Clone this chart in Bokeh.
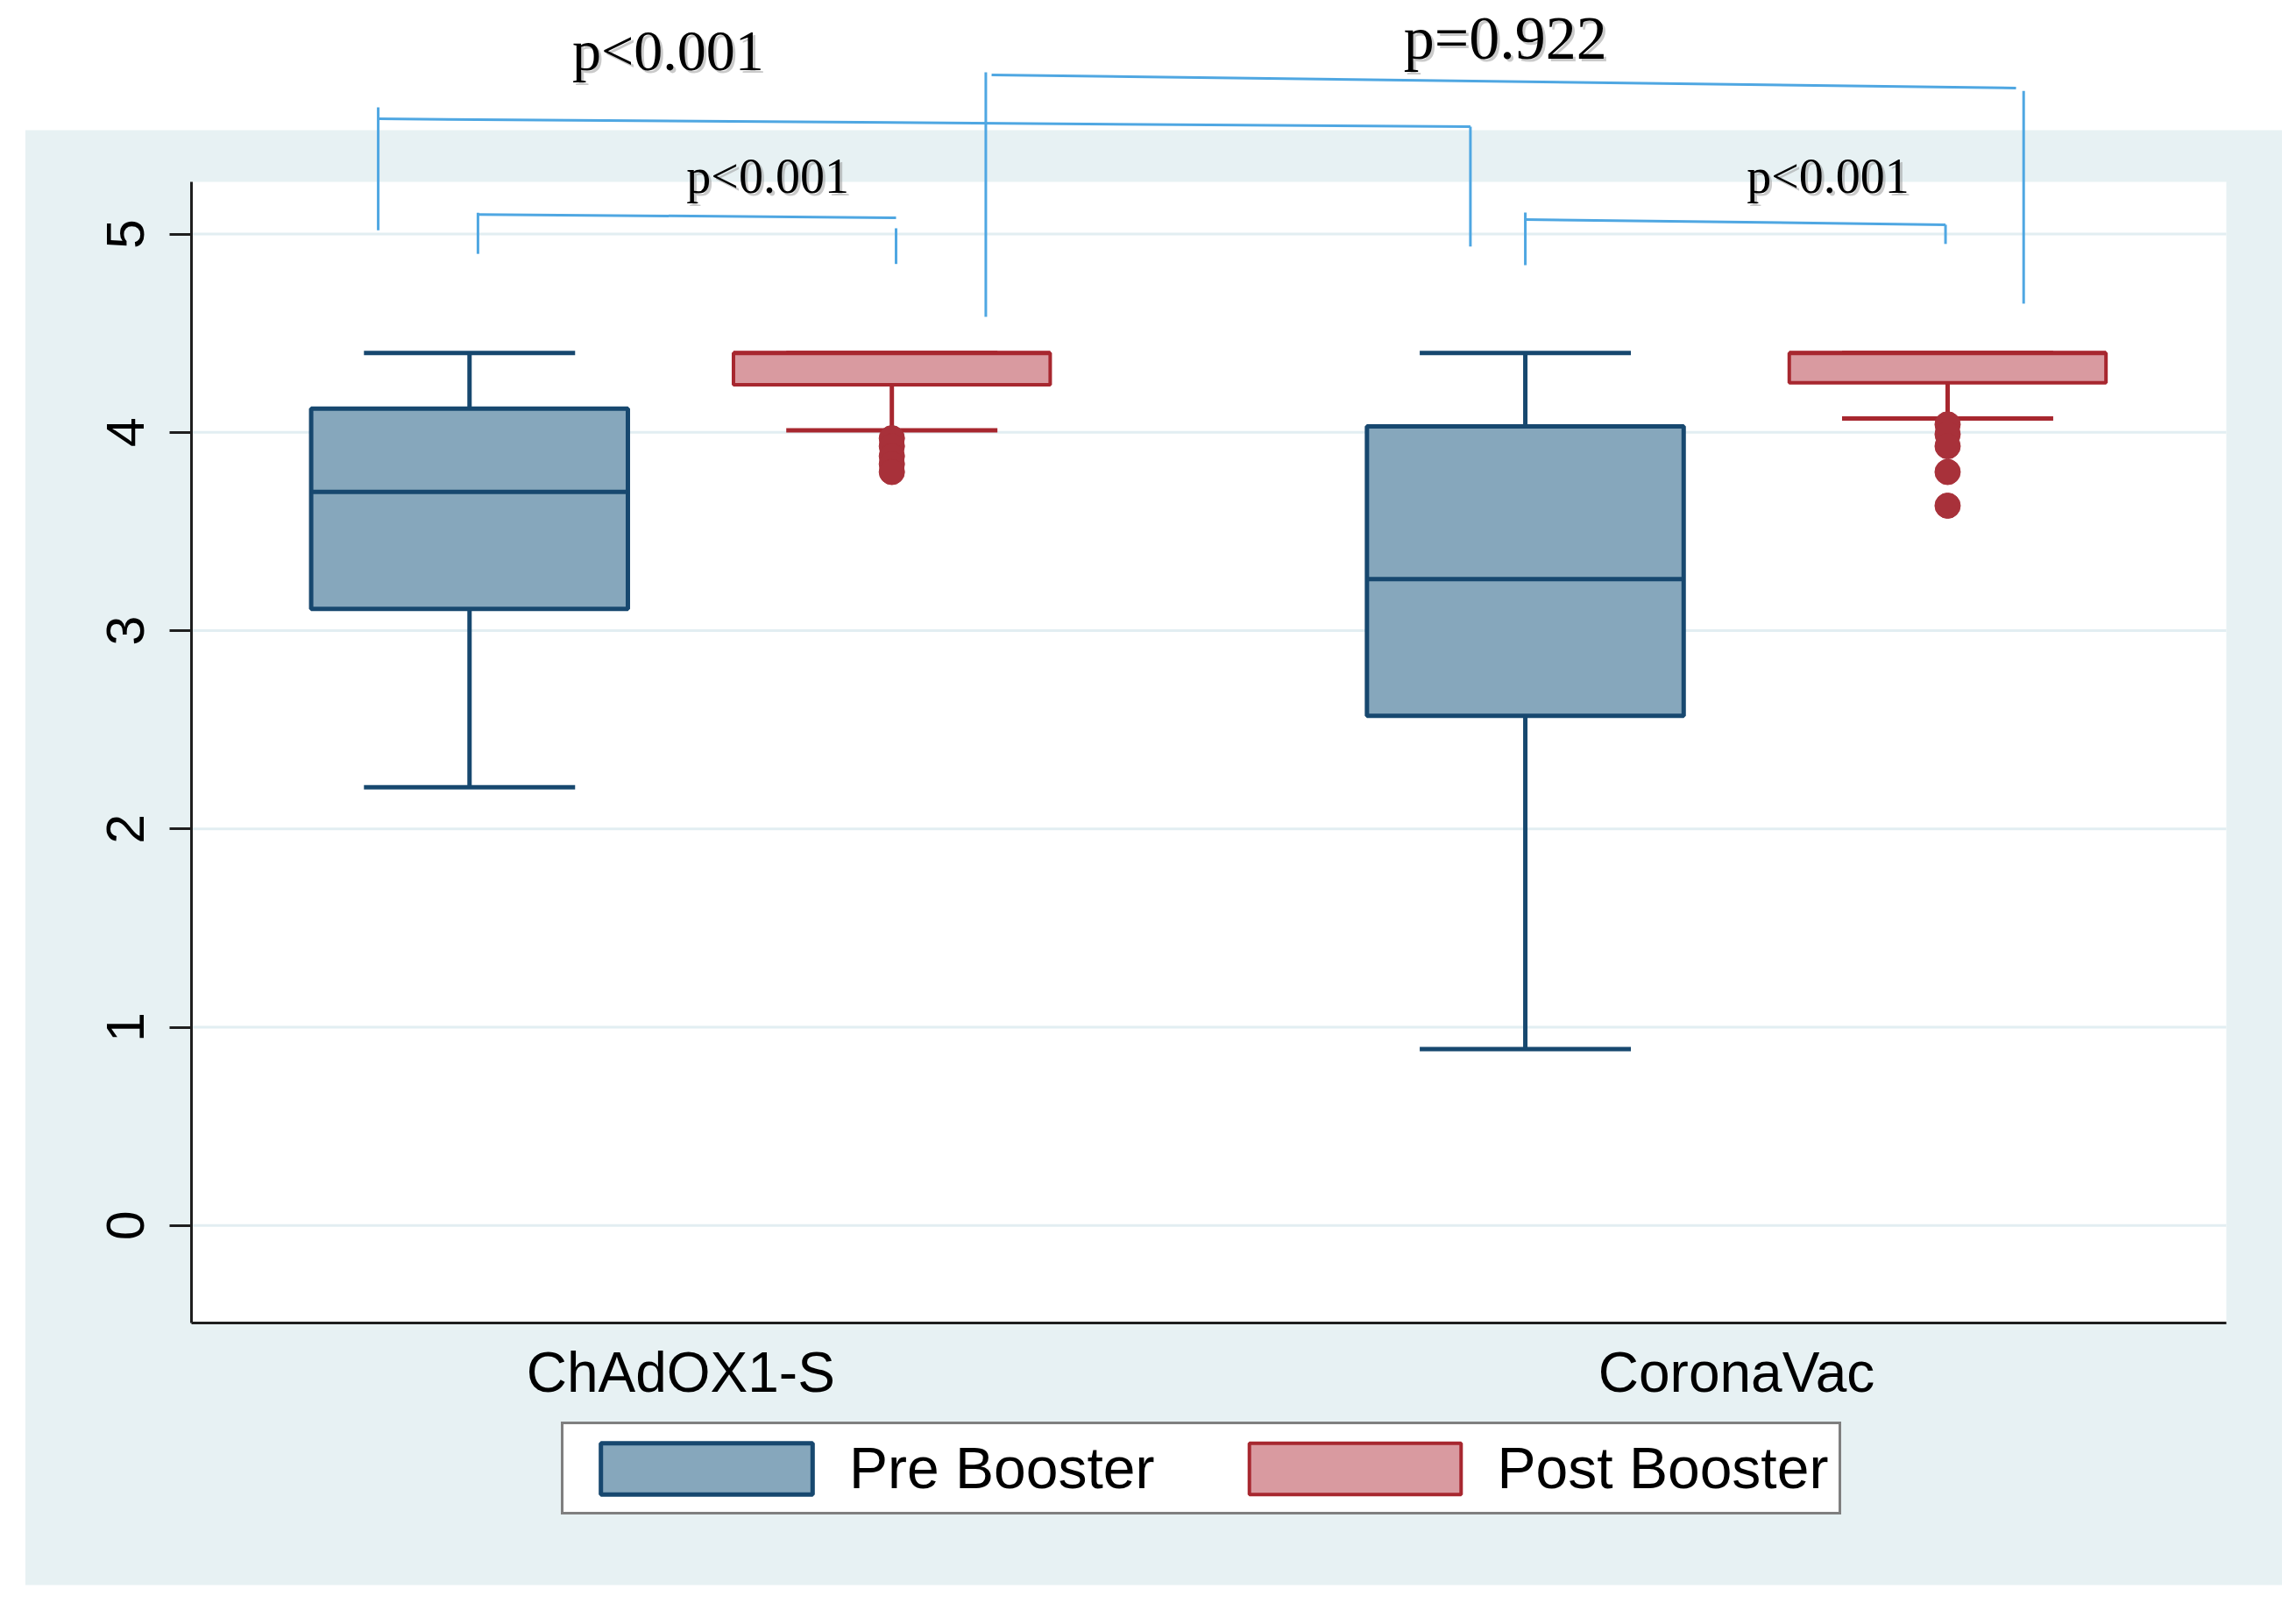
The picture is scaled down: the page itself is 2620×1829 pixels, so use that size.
from bokeh.plotting import figure
from bokeh.models import (Range1d, LinearAxis, FixedTicker, Legend, LegendItem,
                          ColumnDataSource)
from bokeh.core.properties import value
from bokeh.embed import file_html
from bokeh.resources import INLINE

# ---------------- data ----------------
groups = ["ChAdOX1-S", "CoronaVac"]
group_pos = [1, 2]
series = ["Pre Booster", "Post Booster"]

pre_lower = [2.21, 0.89]
pre_q1 = [3.11, 2.57]
pre_median = [3.70, 3.26]
pre_q3 = [4.12, 4.03]
pre_upper = [4.40, 4.40]

post_lower = [4.01, 4.07]
post_q1 = [4.24, 4.25]
post_median = [4.40, 4.40]
post_q3 = [4.40, 4.40]
post_upper = [4.40, 4.40]

post_outliers_chadox = [3.97, 3.93, 3.88, 3.84, 3.80]
post_outliers_coronavac = [4.04, 3.99, 3.93, 3.80, 3.63]

y_ticks = [0, 1, 2, 3, 4, 5]

p_labels = ["p<0.001", "p=0.922", "p<0.001", "p<0.001"]

# ---------------- layout / styling ----------------
OFFSET = 0.2
BOX_W = 0.30
CAP_W = 0.20
PLOT_L, PLOT_R, PLOT_B, PLOT_T = 0.5367, 2.4640, -0.4928, 5.263
BG_L, BG_R, BG_B, BG_T = 0.3793, 2.5194, -1.8133, 5.524

PRE_FILL, PRE_LINE = "#86a7bc", "#17486f"
POST_FILL, POST_LINE = "#d99aa0", "#a7272f"
OUT_COLOR = "#a8313a"
BRACKET = "#4fa7e2"
TEAL = "#e7f1f3"
GRID = "#e2eef2"

p = figure(width=2604, height=1813,
           x_range=Range1d(0.3557, 2.5171), y_range=Range1d(-1.8351, 6.178),
           x_axis_type=None, y_axis_type=None,
           output_backend="svg", toolbar_location=None, min_border=0)
p.outline_line_color = None
p.background_fill_color = "white"
p.border_fill_color = "white"

# backgrounds
p.quad(left=[BG_L], right=[BG_R], bottom=[BG_B], top=[BG_T],
       fill_color=TEAL, line_color=None)
p.quad(left=[PLOT_L], right=[PLOT_R], bottom=[PLOT_B], top=[PLOT_T],
       fill_color="white", line_color=None)

# grid lines
p.segment(x0=[PLOT_L] * len(y_ticks), x1=[PLOT_R] * len(y_ticks),
          y0=y_ticks, y1=y_ticks, line_color=GRID, line_width=3)

# axes (real axes at fixed positions)
yaxis = LinearAxis(ticker=FixedTicker(ticks=y_ticks), fixed_location=PLOT_L,
                   bounds=(PLOT_B, PLOT_T))
yaxis.axis_line_color = "#1e1e1e"
yaxis.axis_line_width = 3
yaxis.major_tick_line_color = "#1e1e1e"
yaxis.major_tick_line_width = 3
yaxis.major_tick_in = 0
yaxis.major_tick_out = 25
yaxis.minor_tick_line_color = None
yaxis.major_label_orientation = "vertical"
yaxis.major_label_standoff = 30
yaxis.major_label_text_font = "Liberation Sans"
yaxis.major_label_text_font_size = "61px"
yaxis.major_label_text_color = "black"
p.add_layout(yaxis, "left")

xaxis = LinearAxis(ticker=FixedTicker(ticks=group_pos), fixed_location=PLOT_B,
                   bounds=(PLOT_L, PLOT_R))
xaxis.major_label_overrides = {gp: g for gp, g in zip(group_pos, groups)}
xaxis.axis_line_color = "#1e1e1e"
xaxis.axis_line_width = 3
xaxis.major_tick_line_color = None
xaxis.major_tick_in = 0
xaxis.major_tick_out = 0
xaxis.minor_tick_line_color = None
xaxis.major_label_standoff = 20
xaxis.major_label_text_font = "Liberation Sans"
xaxis.major_label_text_font_size = "64px"
xaxis.major_label_text_color = "black"
p.add_layout(xaxis, "below")

pre_x = [g - OFFSET for g in group_pos]
post_x = [g + OFFSET for g in group_pos]


def draw_box(xs, lower, q1, med, q3, upper, fill, line, lw):
    # whiskers
    p.segment(x0=xs, x1=xs, y0=q3, y1=upper, line_color=line, line_width=5)
    p.segment(x0=xs, x1=xs, y0=q1, y1=lower, line_color=line, line_width=5)
    # caps
    p.segment(x0=[x - CAP_W / 2 for x in xs], x1=[x + CAP_W / 2 for x in xs],
              y0=upper, y1=upper, line_color=line, line_width=5)
    p.segment(x0=[x - CAP_W / 2 for x in xs], x1=[x + CAP_W / 2 for x in xs],
              y0=lower, y1=lower, line_color=line, line_width=5)
    r = p.vbar(x=xs, width=BOX_W, bottom=q1, top=q3, fill_color=fill,
               line_color=line, line_width=lw)
    p.segment(x0=[x - BOX_W / 2 for x in xs], x1=[x + BOX_W / 2 for x in xs],
              y0=med, y1=med, line_color=line, line_width=5)
    return r


r_pre = draw_box(pre_x, pre_lower, pre_q1, pre_median, pre_q3, pre_upper,
                 PRE_FILL, PRE_LINE, 5)
r_post = draw_box(post_x, post_lower, post_q1, post_median, post_q3, post_upper,
                  POST_FILL, POST_LINE, 4)

# outliers
p.scatter(x=[post_x[0]] * len(post_outliers_chadox), y=post_outliers_chadox,
          marker="circle", size=29, fill_color=OUT_COLOR, line_color=OUT_COLOR)
p.scatter(x=[post_x[1]] * len(post_outliers_coronavac), y=post_outliers_coronavac,
          marker="circle", size=29, fill_color=OUT_COLOR, line_color=OUT_COLOR)

# significance brackets (annotation geometry)
br_x0 = [0.808, 0.808, 1.204,   0.7135, 0.7135, 1.748,   1.289, 1.2945, 2.272,   1.800, 1.800, 2.198]
br_x1 = [1.204, 0.808, 1.204,   1.748, 0.7135, 1.748,    1.289, 2.2648, 2.272,   2.198, 1.800, 2.198]
br_y0 = [5.099, 5.107, 5.029,   5.581, 5.639, 5.541,     5.816, 5.802, 5.722,    5.073, 5.108, 5.047]
br_y1 = [5.082, 4.900, 4.849,   5.541, 5.019, 4.937,     4.583, 5.736, 4.649,    5.047, 4.843, 4.950]
p.segment(x0=br_x0, x1=br_x1, y0=br_y0, y1=br_y1, line_color=BRACKET, line_width=3)

lab_src = ColumnDataSource(dict(
    x=[0.988, 1.781, 1.0825, 2.0867],
    y=[5.926, 5.988, 5.29, 5.29],
    text=p_labels,
    size=["66px", "70px", "56px", "56px"],
))
p.text(x="x", y="y", text="text", source=lab_src, text_font=value("Liberation Serif"),
       text_font_size="size", text_align="center", text_baseline="alphabetic",
       text_color="#8a8a8a", text_alpha=0.45, x_offset=3, y_offset=3)
p.text(x="x", y="y", text="text", source=lab_src, text_font=value("Liberation Serif"),
       text_font_size="size", text_align="center", text_baseline="alphabetic",
       text_color="black")

legend = Legend(items=[LegendItem(label=series[0], renderers=[r_pre]),
                       LegendItem(label=series[1], renderers=[r_post])],
                orientation="horizontal", location=(640, 85))
legend.glyph_width = 302
legend.glyph_height = 73
legend.label_standoff = 12
legend.spacing = 77
legend.padding = 12
legend.label_text_font = "Liberation Sans"
legend.label_text_font_size = "66px"
legend.label_text_color = "black"
legend.border_line_color = "black"
legend.border_line_width = 3
legend.background_fill_color = "white"
legend.background_fill_alpha = 1.0
p.add_layout(legend)

open("out.html", "w").write(file_html(p, INLINE))
